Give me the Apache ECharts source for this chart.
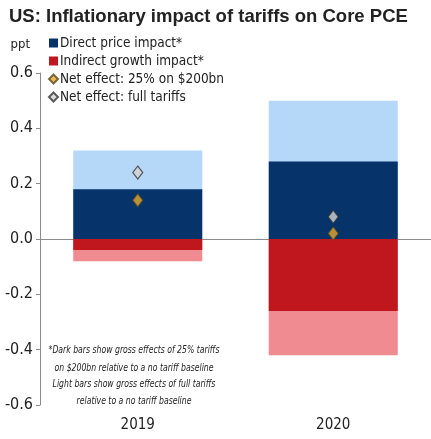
<!DOCTYPE html>
<html>
<head>
<meta charset="utf-8">
<script src="https://cdn.jsdelivr.net/npm/echarts@6/dist/echarts.min.js"></script>
<style>
  html, body { margin: 0; padding: 0; background: #fff; }
  #chart { width: 431px; height: 439px; }
</style>
</head>
<body>
<div id="chart"></div>
<script>
// chart data (ppt)
const years = ['2019', '2020'];
const directFull = [0.32, 0.50];     // light blue: full tariffs
const indirectFull = [-0.08, -0.42]; // light red: full tariffs
const direct25 = [0.18, 0.28];       // dark blue: 25% on $200bn
const indirect25 = [-0.04, -0.26];   // dark red: 25% on $200bn
const net25 = [0.14, 0.02];
const netFull = [0.24, 0.08];
const yTicks = { min: -0.6, max: 0.6, step: 0.2 };

const font = '"DejaVu Sans Condensed", "Liberation Sans", Arial, sans-serif';
const chart = echarts.init(document.getElementById('chart'));

const option = {
  animation: false,
  textStyle: { fontFamily: font },
  title: {
    text: 'US: Inflationary impact of tariffs on Core PCE',
    left: 4,
    top: 2,
    textStyle: { fontFamily: '"Liberation Sans", Arial, sans-serif', fontSize: 18.5, fontWeight: 'bold', color: '#222' }
  },
  legend: {
    orient: 'vertical',
    left: 43,
    top: 31,
    itemGap: 4,
    itemWidth: 9,
    itemHeight: 9,
    textStyle: { fontFamily: font, fontSize: 13.5, color: '#222', padding: [0, 0, 0, -3] },
    data: [
      { name: 'Direct price impact*', icon: 'rect' },
      { name: 'Indirect growth impact*', icon: 'rect' },
      { name: 'Net effect: 25% on $200bn', icon: 'diamond' },
      { name: 'Net effect: full tariffs', icon: 'diamond' }
    ]
  },
  grid: { left: 40, right: -6, top: 73, bottom: 34 },
  xAxis: {
    type: 'category',
    data: years,
    axisLine: { onZero: true, lineStyle: { color: '#8c8c8c', width: 1 } },
    axisTick: { show: false },
    axisLabel: { fontSize: 15, color: '#222', margin: 13 }
  },
  yAxis: {
    type: 'value',
    name: 'ppt',
    nameLocation: 'end',
    nameGap: 22,
    nameTextStyle: { fontSize: 13, color: '#222', align: 'right', padding: [0, 10, 0, 0] },
    min: yTicks.min,
    max: yTicks.max,
    interval: yTicks.step,
    splitLine: { show: false },
    axisLine: { show: true, lineStyle: { color: '#8c8c8c' } },
    axisTick: { show: true, length: 4, lineStyle: { color: '#8c8c8c' } },
    axisLabel: { fontSize: 16, color: '#222', margin: 7, formatter: v => v.toFixed(1) }
  },
  series: [
    {
      name: 'Direct full', type: 'bar', stack: 'full', barWidth: '66%',
      itemStyle: { color: '#b5d8f9' }, data: directFull
    },
    {
      name: 'Indirect full', type: 'bar', stack: 'full',
      itemStyle: { color: '#f08b91' }, data: indirectFull
    },
    {
      name: 'Direct price impact*', type: 'bar', stack: 'gross', barGap: '-100%', barWidth: '66%',
      itemStyle: { color: '#07336b' }, data: direct25
    },
    {
      name: 'Indirect growth impact*', type: 'bar', stack: 'gross',
      itemStyle: { color: '#c0171f' }, data: indirect25
    },
    {
      name: 'Net effect: 25% on $200bn', type: 'scatter', symbol: 'diamond', symbolSize: [10, 13], z: 5,
      itemStyle: { color: '#e3a82b', borderColor: '#5a4a20', borderWidth: 1 }, data: net25
    },
    {
      name: 'Net effect: full tariffs', type: 'scatter', symbol: 'diamond', symbolSize: [10, 13], z: 5,
      itemStyle: { color: '#d2d2d2', borderColor: '#333', borderWidth: 1.2 }, data: netFull
    }
  ],
  graphic: [
    {
      type: 'text', x: 134, y: 341, scaleX: 0.86,
      style: {
        text: '*Dark bars show gross effects of 25% tariffs\non $200bn relative to a no tariff baseline',
        font: 'italic 10px ' + font, fill: '#222', align: 'center', lineHeight: 18
      }
    },
    {
      type: 'text', x: 134, y: 376, scaleX: 0.86,
      style: {
        text: 'Light bars show gross effects of full tariffs\nrelative to a no tariff baseline',
        font: 'italic 10px ' + font, fill: '#222', align: 'center', lineHeight: 17
      }
    }
  ]
};

chart.setOption(option);
</script>
</body>
</html>
